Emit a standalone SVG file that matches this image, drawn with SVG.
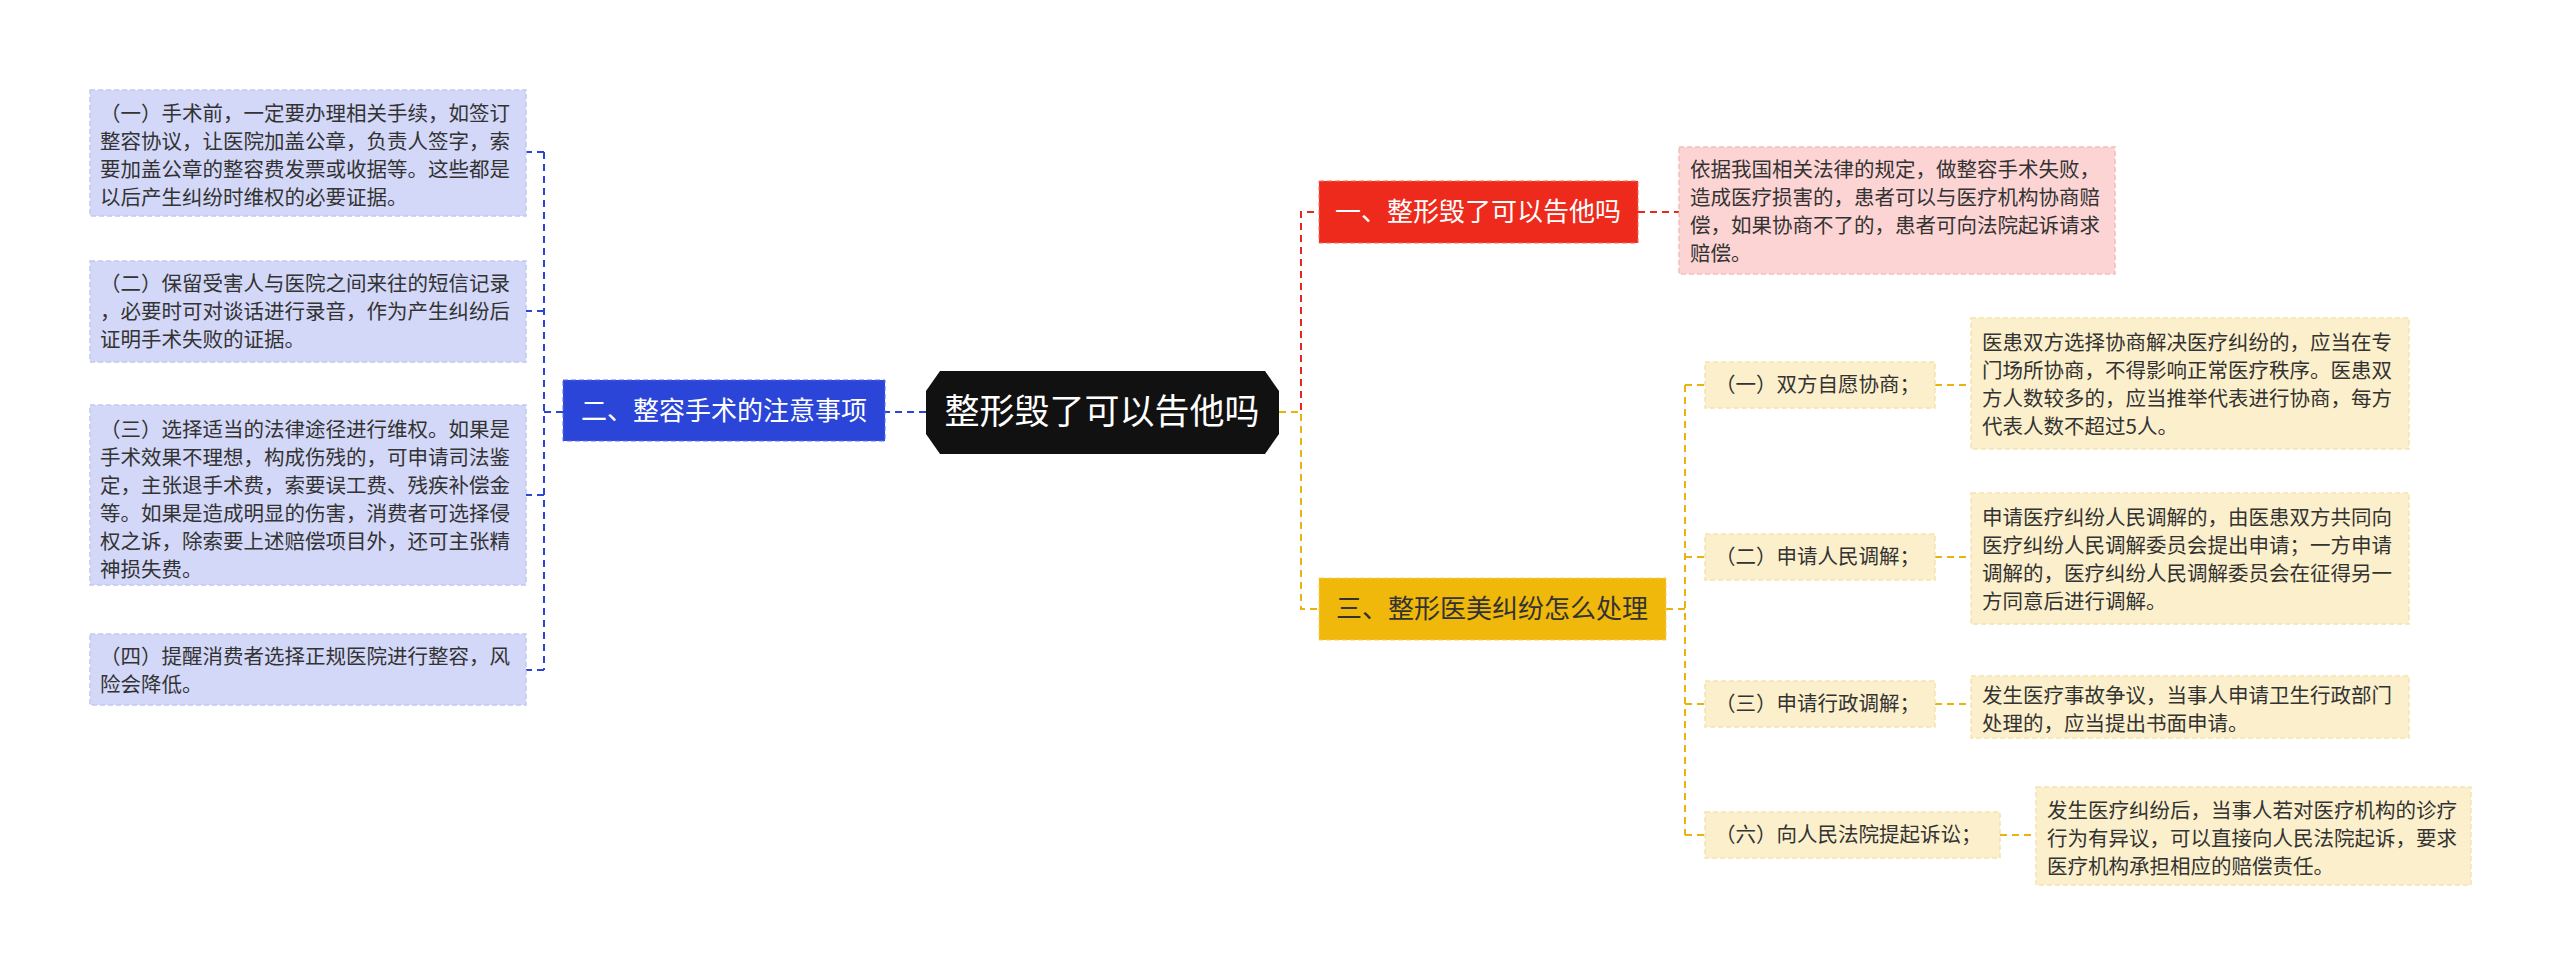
<svg xmlns="http://www.w3.org/2000/svg" width="2560" height="975" viewBox="0 0 2560 975">
<style>
text{font-family:"Noto Sans CJK SC","Liberation Sans",sans-serif;}
.t{font-size:20.5px;fill:#333;}
.m{font-size:26px;fill:#fff;}
.y{font-size:26px;fill:#333;}
.bl{fill:#d4d8f8;stroke:#c2c8f0;stroke-width:1.5;stroke-dasharray:5 3;}
.pk{fill:#fdd4d4;stroke:#f5bcbc;stroke-width:1.5;stroke-dasharray:5 3;}
.yl{fill:#fcf0cc;stroke:#f5e3b0;stroke-width:1.5;stroke-dasharray:5 3;}
.cb{fill:none;stroke:#2a45d8;stroke-width:2;stroke-dasharray:7 5;}
.cr{fill:none;stroke:#e8281c;stroke-width:2;stroke-dasharray:7 5;}
.cy{fill:none;stroke:#eab30c;stroke-width:2;stroke-dasharray:7 5;}
</style>
<rect width="2560" height="975" fill="#fff"/>
<g id="connectors">
<path class="cb" d="M926 412 H885"/>
<path class="cb" d="M563 412 H544 M544 152 V670 M544 152 H526 M544 311 H526 M544 495 H526 M544 670 H526"/>
<path class="cr" d="M1279 412 H1301 V212 H1319 M1638 212 H1679"/>
<path class="cy" d="M1279 412 H1301 V609 H1319"/>
<path class="cy" d="M1666 609 H1685 M1685 385 V835 M1685 385 H1705 M1685 557 H1705 M1685 704 H1705 M1685 835 H1705"/>
<path class="cy" d="M1935 385 H1971 M1935 557 H1971 M1935 704 H1971 M2000 835 H2036"/>
</g>
<g id="center">
<path d="M940 371 H1265 L1279 391 V434 L1265 454 H940 L926 434 V391 Z" fill="#111"/>
<text x="1102" y="424" text-anchor="middle" style="font-size:35px;fill:#fff">整形毁了可以告他吗</text>
</g>
<g id="n2">
<rect x="563" y="380" width="322" height="61" fill="#2a45d8" stroke="#5a70e8" stroke-dasharray="5 3"/>
<text class="m" x="724" y="420" text-anchor="middle">二、整容手术的注意事项</text>
</g>
<g id="l1"><rect class="bl" x="90" y="90" width="436" height="126"/>
<text class="t"><tspan x="100" y="121">（一）手术前，一定要办理相关手续，如签订</tspan><tspan x="100" y="149">整容协议，让医院加盖公章，负责人签字，索</tspan><tspan x="100" y="177">要加盖公章的整容费发票或收据等。这些都是</tspan><tspan x="100" y="205">以后产生纠纷时维权的必要证据。</tspan></text></g>
<g id="l2"><rect class="bl" x="90" y="261" width="436" height="101"/>
<text class="t"><tspan x="100" y="291">（二）保留受害人与医院之间来往的短信记录</tspan><tspan x="100" y="319">，必要时可对谈话进行录音，作为产生纠纷后</tspan><tspan x="100" y="347">证明手术失败的证据。</tspan></text></g>
<g id="l3"><rect class="bl" x="90" y="405" width="436" height="180"/>
<text class="t"><tspan x="100" y="437">（三）选择适当的法律途径进行维权。如果是</tspan><tspan x="100" y="465">手术效果不理想，构成伤残的，可申请司法鉴</tspan><tspan x="100" y="493">定，主张退手术费，索要误工费、残疾补偿金</tspan><tspan x="100" y="521">等。如果是造成明显的伤害，消费者可选择侵</tspan><tspan x="100" y="549">权之诉，除索要上述赔偿项目外，还可主张精</tspan><tspan x="100" y="577">神损失费。</tspan></text></g>
<g id="l4"><rect class="bl" x="90" y="634" width="436" height="71"/>
<text class="t"><tspan x="100" y="664">（四）提醒消费者选择正规医院进行整容，风</tspan><tspan x="100" y="692">险会降低。</tspan></text></g>
<g id="n1">
<rect x="1319" y="181" width="319" height="62" fill="#ee2a1c" stroke="#f56a5e" stroke-dasharray="5 3"/>
<text class="m" x="1478" y="221" text-anchor="middle">一、整形毁了可以告他吗</text>
</g>
<g id="r1"><rect class="pk" x="1679" y="147" width="436" height="127"/>
<text class="t"><tspan x="1690" y="177">依据我国相关法律的规定，做整容手术失败，</tspan><tspan x="1690" y="205">造成医疗损害的，患者可以与医疗机构协商赔</tspan><tspan x="1690" y="233">偿，如果协商不了的，患者可向法院起诉请求</tspan><tspan x="1690" y="261">赔偿。</tspan></text></g>
<g id="n3">
<rect x="1319" y="578" width="347" height="62" fill="#f0b80a" stroke="#f5d060" stroke-dasharray="5 3"/>
<text class="y" x="1492" y="618" text-anchor="middle">三、整形医美纠纷怎么处理</text>
</g>
<g id="s1"><rect class="yl" x="1705" y="362" width="230" height="46"/><text class="t" x="1715" y="392">（一）双方自愿协商；</text></g>
<g id="s2"><rect class="yl" x="1705" y="534" width="230" height="46"/><text class="t" x="1715" y="564">（二）申请人民调解；</text></g>
<g id="s3"><rect class="yl" x="1705" y="681" width="230" height="46"/><text class="t" x="1715" y="711">（三）申请行政调解；</text></g>
<g id="s4"><rect class="yl" x="1705" y="812" width="295" height="46"/><text class="t" x="1715" y="842">（六）向人民法院提起诉讼；</text></g>
<g id="y1"><rect class="yl" x="1971" y="318" width="438" height="131"/>
<text class="t"><tspan x="1982" y="350">医患双方选择协商解决医疗纠纷的，应当在专</tspan><tspan x="1982" y="378">门场所协商，不得影响正常医疗秩序。医患双</tspan><tspan x="1982" y="406">方人数较多的，应当推举代表进行协商，每方</tspan><tspan x="1982" y="434">代表人数不超过5人。</tspan></text></g>
<g id="y2"><rect class="yl" x="1971" y="493" width="438" height="131"/>
<text class="t"><tspan x="1982" y="525">申请医疗纠纷人民调解的，由医患双方共同向</tspan><tspan x="1982" y="553">医疗纠纷人民调解委员会提出申请；一方申请</tspan><tspan x="1982" y="581">调解的，医疗纠纷人民调解委员会在征得另一</tspan><tspan x="1982" y="609">方同意后进行调解。</tspan></text></g>
<g id="y3"><rect class="yl" x="1971" y="676" width="438" height="62"/>
<text class="t"><tspan x="1982" y="703">发生医疗事故争议，当事人申请卫生行政部门</tspan><tspan x="1982" y="731">处理的，应当提出书面申请。</tspan></text></g>
<g id="y4"><rect class="yl" x="2036" y="787" width="435" height="98"/>
<text class="t"><tspan x="2047" y="818">发生医疗纠纷后，当事人若对医疗机构的诊疗</tspan><tspan x="2047" y="846">行为有异议，可以直接向人民法院起诉，要求</tspan><tspan x="2047" y="874">医疗机构承担相应的赔偿责任。</tspan></text></g>
</svg>
